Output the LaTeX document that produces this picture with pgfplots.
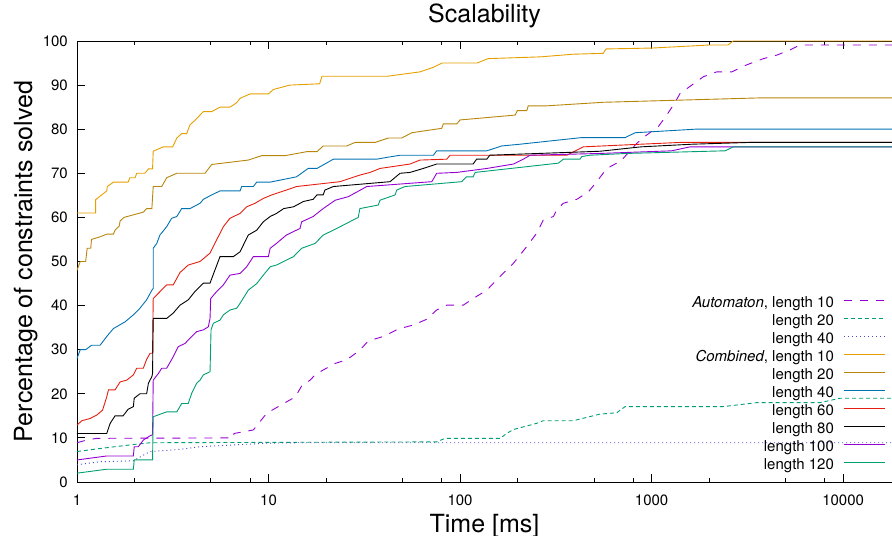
\documentclass[border=0pt]{standalone}
\usepackage{fontspec}
\setmainfont{TeX Gyre Heros}
\usepackage{pgfplots}
\pgfplotsset{compat=1.18}

\definecolor{cpurple}{HTML}{9400D3}
\definecolor{cgreen}{HTML}{009E73}
\definecolor{cdot}{HTML}{4A4AC8}
\definecolor{corange}{HTML}{E69F00}
\definecolor{cgold}{HTML}{B8860B}
\definecolor{cblue}{HTML}{0072B2}
\definecolor{cred}{HTML}{E51E10}

\begin{document}
\begin{tikzpicture}
\begin{semilogxaxis}[
    scale only axis,
    width=815bp, height=441bp,
    xmin=1, xmax=18000, ymin=0, ymax=100,
    axis x line*=box, axis y line*=left,
    axis line style={line width=0.9bp},
    tick align=inside,
    major tick length=8bp, minor tick length=4bp,
    tick style={black, line width=0.8bp},
    xtick={1,10,100,1000,10000},
    xticklabels={1,10,100,1000,10000},
    minor xtick={2,5,8,20,50,80,200,500,800,2000,5000,8000},
    ytick={0,10,...,100},
    /pgf/number format/assume math mode=true,
    tick label style={font=\fontsize{15bp}{18bp}\selectfont},
    xticklabel style={anchor=north, inner sep=0pt, yshift=-13bp},
    yticklabel style={anchor=east, inner sep=0pt, xshift=-9bp},
    title={Scalability},
    title style={at={(axis description cs:0.5,1.0295)}, anchor=base, inner sep=0pt, font=\fontsize{25bp}{30bp}\selectfont},
    xlabel={Time [ms]},
    xlabel style={at={(axis description cs:0.5,-0.1134)}, anchor=base, inner sep=0pt, font=\fontsize{25bp}{30bp}\selectfont},
    ylabel={Percentage of constraints solved},
    ylabel style={at={(axis description cs:-0.0552,0.5)}, anchor=base, inner sep=0pt, font=\fontsize{25bp}{30bp}\selectfont},
    every axis plot/.append style={line width=0.9bp},
    legend cell align=right,
    legend plot pos=right,
    legend image code/.code={\draw[#1] (0bp,0.33em) -- (41bp,0.33em);},
    legend style={at={(axis description cs:0.9926,0.425)}, anchor=north east,
        draw=none, fill=none, inner sep=0pt, row sep=0pt,
        font=\fontsize{15bp}{18bp}\selectfont,
        nodes={inner sep=0pt, text height=13bp, text depth=5bp},
        /tikz/every odd column/.append style={column sep=10bp}},
]
% Automaton
\addplot[draw=cpurple, dash pattern=on 8bp off 8bp] coordinates {
(1,8.9) (1.12,9.5) (1.27,9.9) (6.55,10) (6.6,11) (8.33,11.8) (9.79,15.6) (12,17.8) (13.8,19.3)
(14.9,21.8) (16.5,23.1) (17.5,24.3) (19.3,25.4) (22.3,26.9) (25.6,27.7) (30,29.9) (33.2,32)
(39.8,33) (47.6,34.7) (57,35.6) (67,36.9) (75.5,39) (85.2,40.1) (104,40.1) (117,41.6) (138,43.5)
(155,45.8) (182,48.8) (190,49.6) (223,53.4) (251,56.4) (272,59.4) (307,60.2) (320,61.7) (346,63.2)
(407,64.1) (468,65.8) (517,68.1) (584,71.1) (658,72.3) (685,72.6) (837,76.8) (944,78.7) (1085,80.6)
(1200,83.2) (1300,85.5) (1409,88.1) (1622,90) (1864,91.9) (2190,93) (2623,93) (3142,94.6) (3838,96)
(4508,96.8) (5288,98) (5966,99.1) (18000,99.1)
};
\addlegendentry{\textit{Automaton}, length 10}
\addplot[draw=cgreen, dash pattern=on 4bp off 3bp] coordinates {
(1,6.9) (1.32,7.6) (1.97,8.5) (2.41,8.9) (75.5,9.1) (83.5,9.9) (162,9.9) (175,11) (190,11.9)
(251,13.3) (272,13.9) (391,13.9) (538,15.4) (658,15.7) (728,17.1) (2371,17.1) (3540,18) (7586,18)
(9645,19) (18000,19)
};
\addlegendentry{length 20}
\addplot[draw=cdot, dash pattern=on 1bp off 3bp] coordinates {
(1,3.9) (1.32,4.6) (1.97,4.8) (2.22,6.1) (2.41,6.9) (3.45,7.4) (4.39,8) (9.79,8.8) (14.6,8.9) (18000,8.9)
};
\addlegendentry{length 40}
% Combined
\addplot[draw=corange] coordinates {
(1,61) (1.25,61) (1.25,64) (1.43,66) (1.44,67) (1.55,68) (1.85,68) (1.89,69) (2.01,69) (2.05,70)
(2.26,70) (2.36,71) (2.48,71) (2.5,75) (2.82,76) (3.16,76) (3.32,78) (3.52,79) (3.74,79) (3.89,81)
(4.13,82) (4.57,84) (5.05,84) (5.58,85) (6.29,85) (6.82,86) (7.1,87) (8.01,88) (9.98,88) (10.6,89)
(12.9,90) (18.5,90.3) (19,92) (41.6,92) (61.8,93) (72.2,94) (80.5,95) (122.6,95) (140,96) (262,96.4)
(389,97) (558,97.2) (579,98.2) (1006,98.4) (2020,99.1) (2507,99.1) (2666,100) (18000,100)
};
\addlegendentry{\textit{Combined}, length 10}
\addplot[draw=cgold] coordinates {
(1,48) (1.04,50) (1.11,50) (1.13,53) (1.18,53) (1.19,55) (1.32,55.6) (1.43,56.2) (1.55,56.2)
(1.58,57.1) (1.66,58) (1.68,59.2) (1.76,60) (2.22,61.2) (2.31,62) (2.46,62) (2.5,67) (2.77,67)
(2.94,69) (3.32,70) (4.66,70) (5.05,72) (7.84,73) (9.21,74) (12.2,74) (15.8,74.9) (17.9,74.9)
(19.3,76.2) (25.6,76.2) (28.3,77) (36,77) (42.2,78) (49.6,78) (56,79.2) (80.2,80.2) (81.8,81.2)
(96.1,81.2) (100,82.1) (194,83.2) (199,84.2) (223,84.2) (227,85.3) (284,85.3) (558,86.1)
(3686,87.1) (18000,87.1)
};
\addlegendentry{length 20}
\addplot[draw=cblue] coordinates {
(1,28) (1.04,30) (1.11,30) (1.19,31) (1.32,31) (1.43,33) (1.55,34.8) (1.78,36.3) (1.97,37.9)
(2.13,39.4) (2.31,41.3) (2.46,43.5) (2.5,43.9) (2.5,53) (2.61,54.1) (2.71,56) (2.94,57.9)
(3.12,59.8) (3.32,60.2) (3.52,62) (3.89,62) (4.39,63.2) (4.57,64.1) (5.05,65.1) (5.58,66) (7.1,66)
(7.24,67) (8.33,67) (8.68,68) (10.2,68) (14,69.2) (16.1,71.1) (17.9,71.1) (21.8,73.2) (36.7,73.2)
(41.4,73.6) (48.6,74.1) (72.6,74.1) (75.5,75.1) (138,75.1) (165,76.2) (206,76.6) (432,78.1)
(728,78.1) (821,79.2) (1688,80) (18000,80)
};
\addlegendentry{length 40}
\addplot[draw=cred] coordinates {
(1,12.9) (1.06,13.9) (1.17,14.4) (1.27,15.2) (1.36,16.3) (1.43,19.3) (1.46,20.9) (1.58,20.9)
(1.68,22.7) (1.82,23.1) (1.97,24.3) (2.05,25.8) (2.22,25.8) (2.31,27.8) (2.41,29.2) (2.48,29.2)
(2.5,41.6) (2.66,42.8) (2.94,44.7) (3.18,44.7) (3.45,47.5) (3.81,49.2) (4.39,50) (4.95,51.9)
(5.36,54.9) (5.81,57.9) (6.29,59.8) (7.1,60.9) (7.69,62.4) (8.5,63.2) (9.39,64.3) (10.4,65.1)
(12.4,66.2) (14,67) (23.6,68.1) (30,69.6) (33.9,70.2) (38.2,71.1) (54.8,72.1) (61.8,73) (85.2,73.2)
(88.7,74.1) (361,74.1) (440,76) (882,76.6) (1409,77) (18000,77)
};
\addlegendentry{length 60}
\addplot[draw=black] coordinates {
(1,11) (1.43,11) (1.49,13.3) (1.58,15) (1.74,15) (1.85,16.5) (1.97,17.1) (1.99,19) (2.13,20)
(2.31,20) (2.36,22.4) (2.46,23.9) (2.48,24.6) (2.5,37.1) (2.94,37.1) (3.18,38.3) (3.45,40.1)
(3.81,41.3) (4.13,43.2) (4.57,45.1) (4.95,45.1) (5.15,47.1) (5.58,51.1) (6.55,51.1) (7.1,52.2)
(7.84,56) (8.68,57.1) (9.39,59) (10.2,60.2) (11,60.9) (12,62) (13.5,62.4) (15.2,63.6) (17.1,64.1)
(17.9,65.1) (19.3,65.1) (19.7,66.2) (21.8,67) (43.1,68.1) (48.6,70) (54.8,70.2) (64.3,71.1)
(75.5,72.1) (117,72.1) (122,73.2) (138,73.2) (143,74.1) (538,75) (882,76) (1637,76.6) (3254,77)
(18000,77)
};
\addlegendentry{length 80}
\addplot[draw=cpurple] coordinates {
(1,5) (1.43,5.9) (1.97,5.9) (1.99,8) (2.09,8) (2.22,9.5) (2.41,10.5) (2.48,10.7) (2.5,23.1)
(2.66,24.6) (2.77,25.8) (2.94,25.8) (3.18,28.4) (3.38,30.7) (3.66,31.4) (3.97,33) (4.22,34.1)
(4.57,34.5) (4.85,35.2) (4.95,37.1) (4.99,41.6) (5.36,43.2) (5.81,44.7) (6.29,46.9) (7.1,47.3)
(7.69,48.8) (8.33,51.1) (9.98,51.1) (10.2,53) (11,54.1) (12.4,56) (14.6,57.5) (14.9,59) (17.1,60.2)
(19.3,62) (22.3,63.9) (26.1,64.7) (32.6,67) (71.2,68.1) (75.5,70) (96.1,70.2) (138,71.1) (190,72.1)
(214,73.2) (232,74.1) (538,74.5) (1274,75.1) (1589,76) (18000,76)
};
\addlegendentry{length 100}
\addplot[draw=cgreen] coordinates {
(1,2) (1.43,2.9) (1.97,2.9) (1.99,5) (2.48,5) (2.5,14.8) (2.94,15.9) (3.32,15.9) (3.52,17.8)
(3.81,17.8) (3.97,20.1) (4.22,22.4) (4.39,23.1) (4.57,24.3) (4.95,25) (5.01,34.5) (5.15,36)
(5.58,36.7) (5.81,37.9) (6.29,39) (6.82,39.4) (7.1,40.5) (7.84,43.5) (8.68,45) (9.39,46.9)
(10.2,48.8) (11,49.2) (13.5,51.1) (14.9,53) (17.5,54.1) (19.3,56) (21.8,57.1) (29.4,60) (30,62)
(37.4,62.8) (38.2,63.9) (45.8,65.1) (46.7,66.2) (51.6,67) (102,68.1) (108,69.2) (117,69.2)
(120,70.2) (326,72.3) (346,73.2) (423,73.2) (432,73.8) (477,74.1) (741,74.5) (2420,75.1)
(2675,76) (18000,76)
};
\addlegendentry{length 120}
\end{semilogxaxis}
\pgfresetboundingbox
\path[use as bounding box] ([shift={(-77bp,-54bp)}]current axis.south west) rectangle ([shift={(815bp,482bp)}]current axis.south west);
\end{tikzpicture}
\end{document}
